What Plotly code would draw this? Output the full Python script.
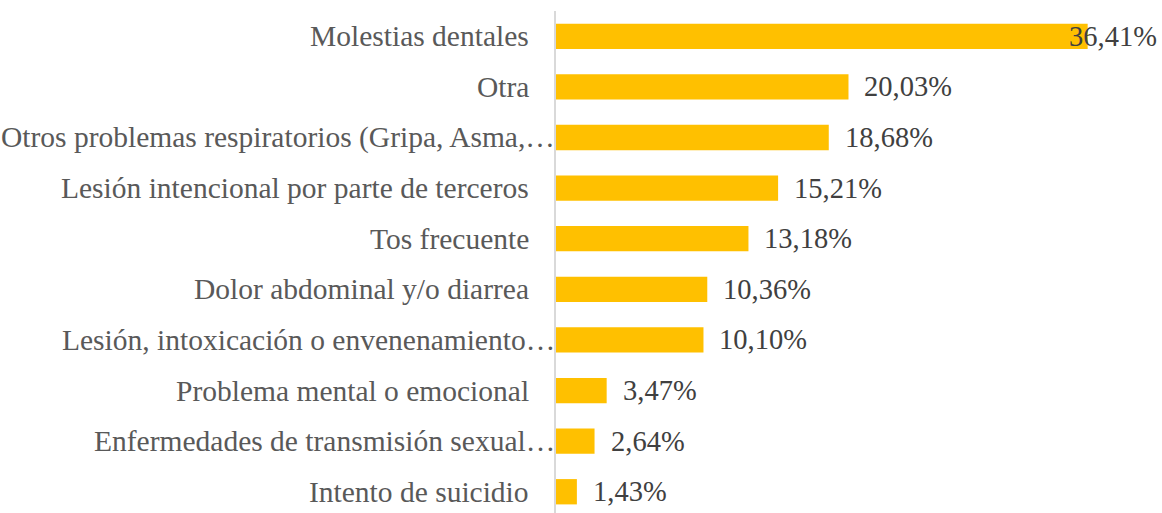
import plotly.graph_objects as go

categories = [
    "Molestias dentales",
    "Otra",
    "Otros problemas respiratorios (Gripa, Asma,…",
    "Lesión intencional por parte de terceros",
    "Tos frecuente",
    "Dolor abdominal y/o diarrea",
    "Lesión, intoxicación o envenenamiento…",
    "Problema mental o emocional",
    "Enfermedades de transmisión sexual…",
    "Intento de suicidio",
]
values = [36.41, 20.03, 18.68, 15.21, 13.18, 10.36, 10.10, 3.47, 2.64, 1.43]
value_labels = ["36,41%", "20,03%", "18,68%", "15,21%", "13,18%",
                "10,36%", "10,10%", "3,47%", "2,64%", "1,43%"]

BAR_COLOR = "#FFC000"
FONT = "Liberation Serif, Times New Roman, serif"
XMAX = 41.5

fig = go.Figure()
fig.add_trace(go.Bar(
    x=values, y=categories, orientation="h",
    marker=dict(color=BAR_COLOR, line=dict(width=0)),
    width=0.5, hoverinfo="skip",
))

annotations = []
# category labels (truncated ones overflow towards the axis, as in the original)
for cat in categories:
    shift = 1 if cat.endswith("…") else -25
    annotations.append(dict(x=0, xref="paper", y=cat, yref="y", text=cat,
                            showarrow=False, xanchor="right", xshift=shift,
                            font=dict(family=FONT, size=29.5, color="#595959")))
# value labels
for cat, v, lab in zip(categories, values, value_labels):
    if v > 0.85 * XMAX:
        annotations.append(dict(x=1, xref="paper", y=cat, yref="y", text=lab,
                                showarrow=False, xanchor="right", xshift=-3,
                                font=dict(family=FONT, size=28.5, color="#404040")))
    else:
        annotations.append(dict(x=v, xref="x", y=cat, yref="y", text=lab,
                                showarrow=False, xanchor="left", xshift=14,
                                font=dict(family=FONT, size=28.5, color="#404040")))

fig.update_layout(
    width=1162, height=513,
    margin=dict(l=556, r=0, t=11, b=0),
    plot_bgcolor="white", paper_bgcolor="white",
    showlegend=False,
    annotations=annotations,
    xaxis=dict(range=[0, XMAX], showgrid=False, showticklabels=False,
               zeroline=False, showline=False, fixedrange=True,
               automargin=False),
    yaxis=dict(categoryorder="array", categoryarray=categories,
               range=[9.42, -0.5], showgrid=False, zeroline=False,
               automargin=False, showticklabels=False, fixedrange=True,
               showline=True, linecolor="#d9d9d9", linewidth=2),
)

fig.write_html(
    "out.html",
    config={"displayModeBar": False},
    post_script="document.body.style.margin='0';document.body.style.overflow='hidden';",
)
